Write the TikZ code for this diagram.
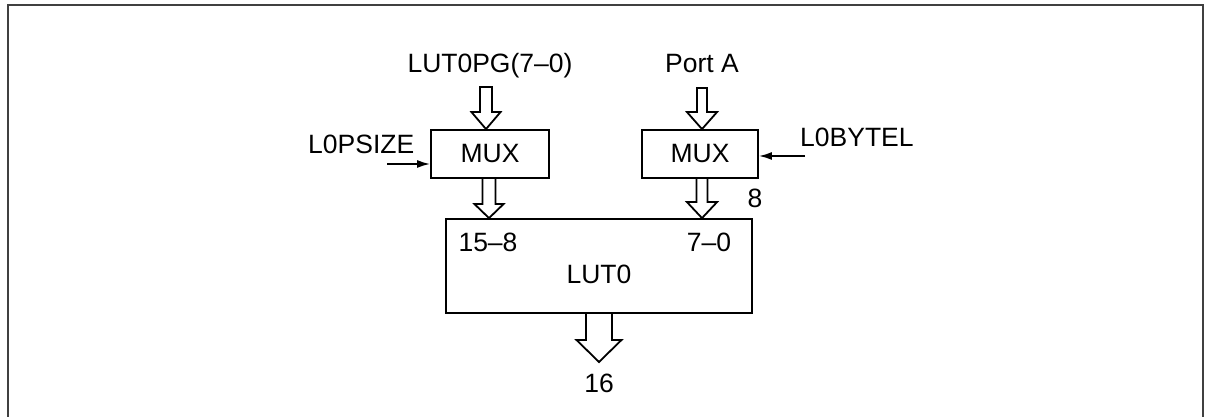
\documentclass[tikz,border=0pt]{standalone}
\usepackage{fontspec}
\setmainfont{Liberation Sans}
\usetikzlibrary{arrows.meta,calc}
\newcommand\hollowarrow[5]{%
  \draw[bus] let \p1=(#1), \p2=(#2) in
    (\x1-#3,\y1) -- (\x1-#3,\y2+#5) -- (\x1-#4,\y2+#5) -- (\x1,\y2)
    -- (\x1+#4,\y2+#5) -- (\x1+#3,\y2+#5) -- (\x1+#3,\y1) -- cycle;}
\begin{document}
\begin{tikzpicture}[x=1pt,y=1pt,
  every node/.style={font=\fontsize{26.5}{30}\selectfont, inner sep=0pt},
  block/.style={draw, line width=1.8pt, minimum height=48pt},
  bus/.style={draw, line width=1.8pt, fill=white, line join=miter},
  sig/.style={line width=1.8pt, -{Latex[length=13pt,width=8pt]}},
  lbl/.style={anchor=base}]
\useasboundingbox (0,0) rectangle (1208,417);
% frame
\draw[line width=2pt, black!75] (8,0) -- (8,412) -- (1203,412) -- (1203,0);
% blocks
\node[block, minimum width=118pt] (lmux) at (490,263) {MUX};
\node[block, minimum width=116pt] (rmux) at (700,263) {MUX};
\node[block, minimum width=306pt, minimum height=94pt] (lut) at (599,151) {};
% labels
\node[lbl] (lutpg) at (490,344) {LUT0PG(7–0)};
\node[lbl] (porta) at (702,344) {Port A};
\node[lbl, anchor=base west] (psize) at (308,263) {L0PSIZE};
\node[lbl, anchor=base west] (bytel) at (800,270) {L0BYTEL};
\node[lbl] (eight) at (755,209) {8};
\node[lbl] (hi) at (488,165) {15–8};
\node[lbl] (lo) at (709,165) {7–0};
\node[lbl] (lutname) at (599,133) {LUT0};
\node[lbl] (sixteen) at (599,24) {16};
% bus coordinates
\coordinate (a1s) at (486,330);
\coordinate (a2s) at (702,329);
\coordinate (a3s) at (489,239);
\coordinate (a4s) at (702,239);
\coordinate (a5s) at (599,104);
\coordinate (a5e) at (599,55);
% hollow bus arrows
\hollowarrow{a1s}{lmux.north}{6}{14.5}{17}
\hollowarrow{a2s}{rmux.north}{5}{15}{17}
\hollowarrow{a3s}{lut.north}{6.5}{14.5}{14}
\hollowarrow{a4s}{lut.north}{5.5}{15}{16}
\hollowarrow{a5s}{a5e}{13}{22.5}{22}
% control signals
\coordinate (psizeend) at (387,253);
\coordinate (bytelend) at (805,261);
\draw[sig] (psizeend) -- (psizeend -| lmux.west);
\draw[sig] (bytelend) -- (bytelend -| rmux.east);
\end{tikzpicture}
\end{document}
